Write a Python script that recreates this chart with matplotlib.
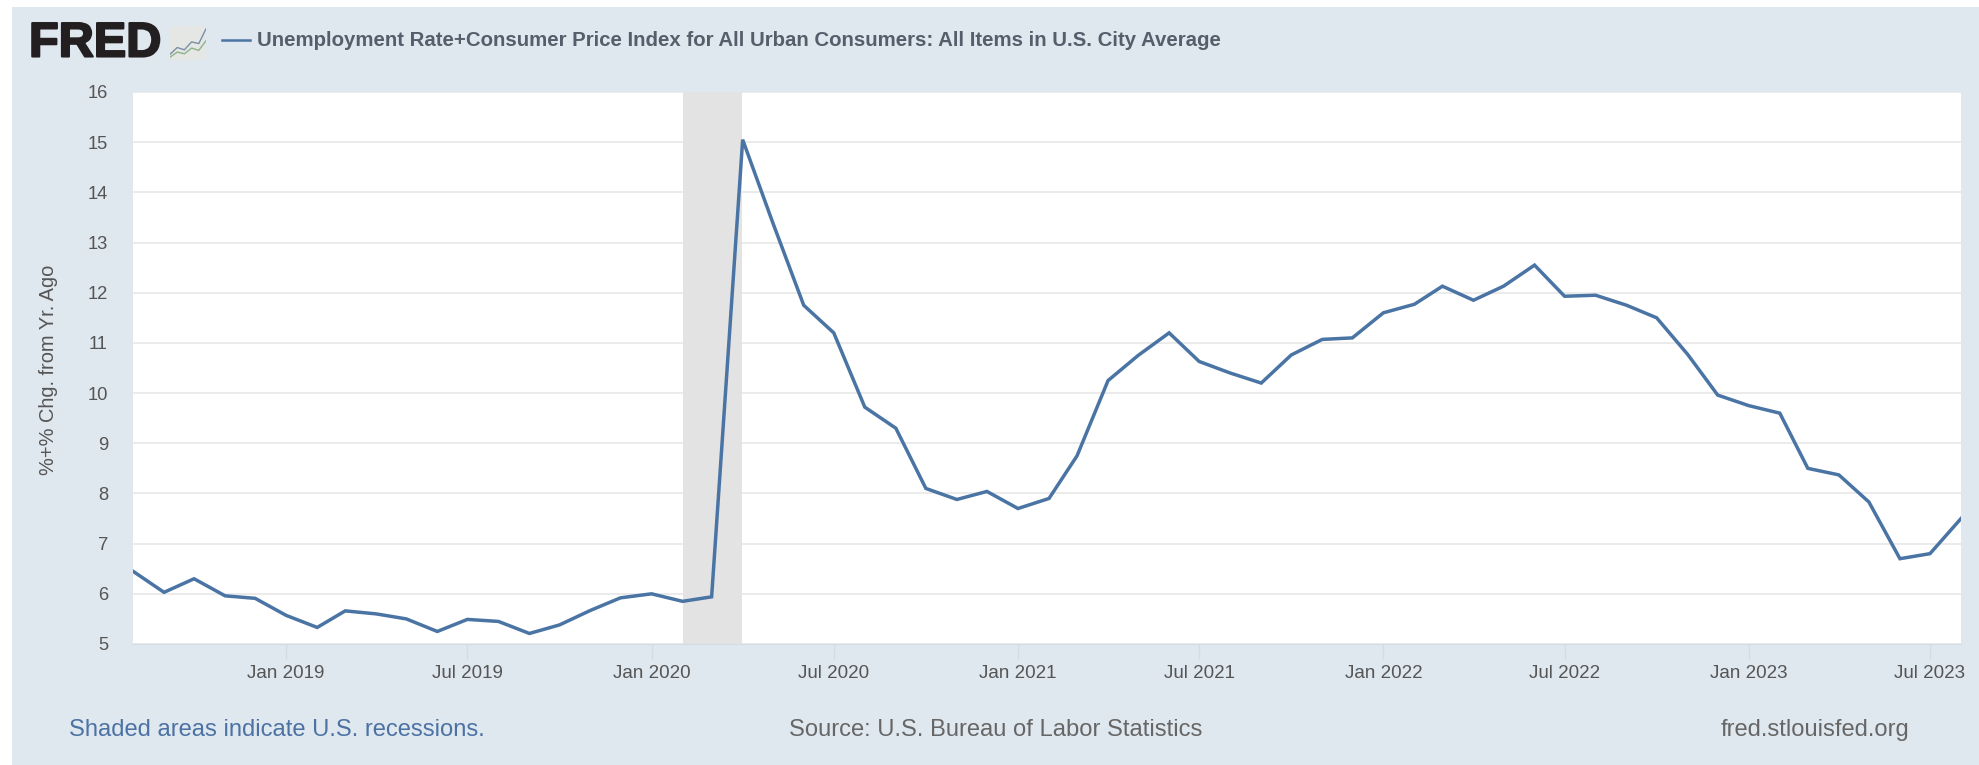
import matplotlib
matplotlib.use('Agg')
import matplotlib.dates as mdates
import matplotlib.patheffects as pe
import matplotlib.pyplot as plt
import numpy as np
import pandas as pd
from matplotlib.patches import Rectangle

W, H = 1979, 765

dates = pd.date_range('2018-08-01', '2023-08-01', freq='MS')
values = [
    6.45, 6.03, 6.30, 5.96, 5.91,
    5.57, 5.33, 5.66, 5.60, 5.50, 5.25, 5.49, 5.45, 5.21, 5.38, 5.67, 5.92,
    6.00, 5.85, 5.94, 15.05, 13.40, 11.75, 11.20, 9.72, 9.30, 8.10, 7.88, 8.04,
    7.70, 7.90, 8.75, 10.25, 10.75, 11.20, 10.63, 10.40, 10.20, 10.76, 11.07, 11.10,
    11.60, 11.77, 12.13, 11.85, 12.13, 12.55, 11.93, 11.95, 11.75, 11.50, 10.77, 9.96,
    9.75, 9.60, 8.50, 8.37, 7.83, 6.70, 6.80, 7.50,
]
recession = ('2020-02-01', '2020-03-31')
x_ticks = ['2019-01-01', '2019-07-01', '2020-01-01', '2020-07-01', '2021-01-01', '2021-07-01',
           '2022-01-01', '2022-07-01', '2023-01-01', '2023-07-01']
y_ticks = list(range(5, 17))

title = 'Unemployment Rate+Consumer Price Index for All Urban Consumers: All Items in U.S. City Average'
y_label = '%+% Chg. from Yr. Ago'

BG = '#dfe7ef'
LINE = '#4a74a4'
TEXT = '#555555'

plt.rcParams['font.family'] = ['Liberation Sans', 'DejaVu Sans']

fig = plt.figure(figsize=(W / 100, H / 100), dpi=100, facecolor='white')
fig.add_artist(Rectangle((12 / W, 0), 1 - 12 / W, 1 - 7 / H, transform=fig.transFigure, color=BG, lw=0, zorder=-1))

# plot area in pixels from the reference
left, right, top, bottom = 133, 1961, 92, 644
ax = fig.add_axes([left / W, 1 - bottom / H, (right - left) / W, (bottom - top) / H])
ax.plot(dates, values, color=LINE, lw=2.5, solid_joinstyle='miter', zorder=3)
ax.axvspan(pd.Timestamp(recession[0]), pd.Timestamp(recession[1]), color='#e3e3e3', lw=0, zorder=2)

ax.set_xlim(dates[0], dates[-1])
ax.set_ylim(5, 16)
ax.set_yticks(y_ticks)
ax.set_xticks(pd.to_datetime(x_ticks))
ax.xaxis.set_major_formatter(mdates.DateFormatter('%b %Y'))
ax.grid(axis='y', color='#e8e8e8', lw=1.2, zorder=1)
ax.set_axisbelow(True)
for s in ['top', 'right', 'left']:
    ax.spines[s].set_visible(False)
ax.spines['bottom'].set_color('#d3dbe6')
ax.tick_params(axis='y', length=0, pad=18, labelsize=13.2, labelcolor=TEXT)
ax.tick_params(axis='x', length=11, width=1, color='#d3dbe6', pad=4, labelsize=13.5, labelcolor=TEXT)


def px_text(x, y, s, **kw):
    return fig.text(x / W, 1 - y / H, s, va='center', **kw)


px_text(49, 370, y_label, rotation=90, ha='center', fontsize=14.4, color=TEXT)

# header
logo = px_text(29, 44, 'FRED', fontsize=35, fontweight='bold', color='#231f20', ha='left')
logo.set_path_effects([pe.withStroke(linewidth=1.5, foreground='#231f20')])
icon = fig.add_axes([170 / W, 1 - 60 / H, 36 / W, 34 / H], facecolor='#e4e7e4')
icon.plot([0, 1, 2, 3, 4, 5], [1.0, 2.2, 1.8, 3.2, 2.9, 5.5], color='#7b8ea8', lw=1)
icon.plot([0, 1, 2, 3, 4, 5], [0.5, 1.4, 1.1, 2.1, 1.7, 3.4], color='#8fb28a', lw=1)
icon.set_xlim(0, 5)
icon.set_ylim(0, 6)
icon.set_xticks([])
icon.set_yticks([])
for s in icon.spines.values():
    s.set_visible(False)
fig.add_artist(plt.Line2D([222 / W, 250 / W], [1 - 40 / H, 1 - 40 / H], color=LINE, lw=1.8))
px_text(257, 40, title, fontsize=14.64, fontweight='bold', color='#555f6b', ha='left')

# footer
px_text(69, 730, 'Shaded areas indicate U.S. recessions.', fontsize=17.07, color='#4c72a4', ha='left')
px_text(789, 730, 'Source: U.S. Bureau of Labor Statistics', fontsize=17.07, color='#666666', ha='left')
px_text(1909, 730, 'fred.stlouisfed.org', fontsize=17.07, color='#666666', ha='right')

fig.savefig('out.png', dpi=100, facecolor=fig.get_facecolor())
